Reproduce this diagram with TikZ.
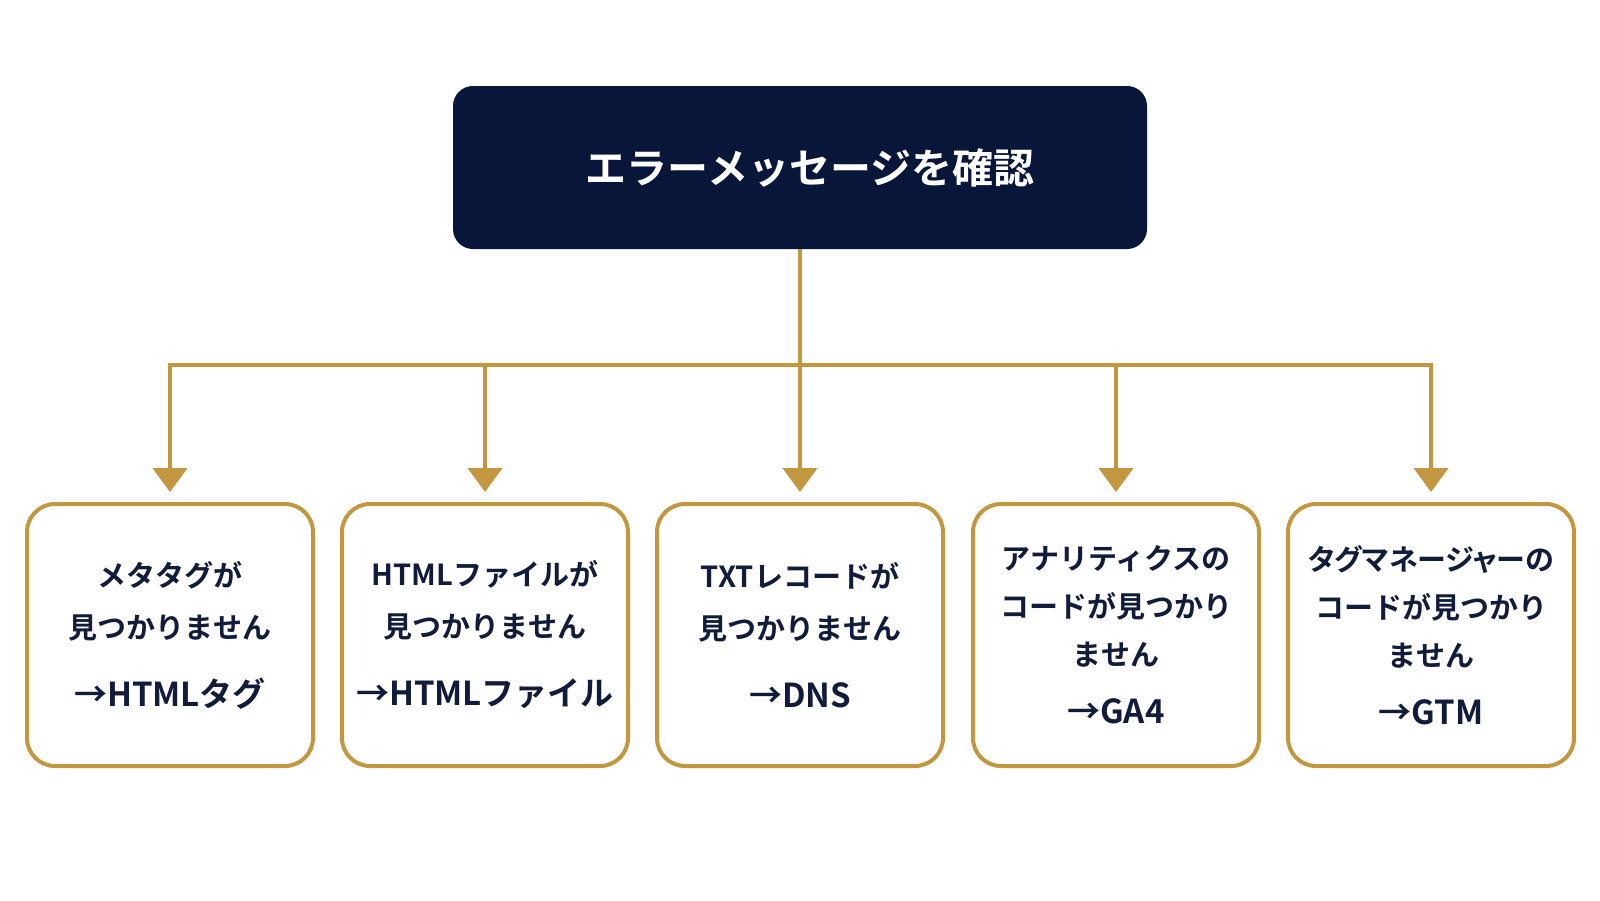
\documentclass[tikz,border=0pt]{standalone}
\usepackage{fontspec}
\setmainfont{Noto Sans CJK JP}[BoldFont={Noto Sans CJK JP Bold}]
\usetikzlibrary{arrows.meta}
\definecolor{navy}{HTML}{08163A}
\definecolor{gold}{HTML}{C3973F}
\definecolor{ink}{HTML}{111B3A}
\newcommand{\lastline}[1]{{\fontsize{33}{33}\selectfont #1}}
\begin{document}
\begin{tikzpicture}[x=1pt,y=-1pt,
  titlebox/.style={fill=navy, rounded corners=20pt, minimum width=694pt, minimum height=163pt,
    text=white, inner sep=0pt, font=\bfseries\fontsize{41}{41}\selectfont},
  leaf/.style={draw=gold, line width=4pt, fill=white, rounded corners=28pt,
    minimum width=286pt, minimum height=262pt, text=ink, align=center, inner sep=0pt,
    font=\bfseries\fontsize{29}{52}\selectfont},
  leafb/.style={leaf, font=\bfseries\fontsize{29}{48}\selectfont},
  conn/.style={draw=gold, line width=4.5pt},
  tipline/.style={conn, -{Triangle[width=34pt,length=24pt]}, shorten >=10pt}]
\useasboundingbox (0,0) rectangle (1600,900);
\fill[white] (0,0) rectangle (1600,900);
\node[titlebox] (top) at (800,167.5) {\hspace*{20pt}エラーメッセージを確認};
\node[leaf] (b1) at (170,635) {メタタグが\\見つかりません\\[16pt]\lastline{→HTMLタグ}};
\node[leaf] (b2) at (485,635) {HTMLファイルが\\見つかりません\\[16pt]\lastline{→HTMLファイル}};
\node[leaf] (b3) at (800,635) {TXTレコードが\\見つかりません\\[16pt]\lastline{→DNS}};
\node[leafb] (b4) at (1116,635) {アナリティクスの\\コードが見つかり\\ません\\[10pt]\lastline{→GA4}};
\node[leafb] (b5) at (1431,635) {{\addfontfeature{RawFeature=+palt}タグマネージャーの}\\コードが見つかり\\ません\\[10pt]\lastline{→GTM}};
\coordinate (bus) at (800,365);
\draw[conn] (top.south) -- (bus);
\draw[conn, line cap=rect] (b1.north |- bus) -- (b5.north |- bus);
\foreach \i in {1,...,5}{
  \draw[tipline] (b\i.north |- bus) -- (b\i.north);
}
\end{tikzpicture}
\end{document}
